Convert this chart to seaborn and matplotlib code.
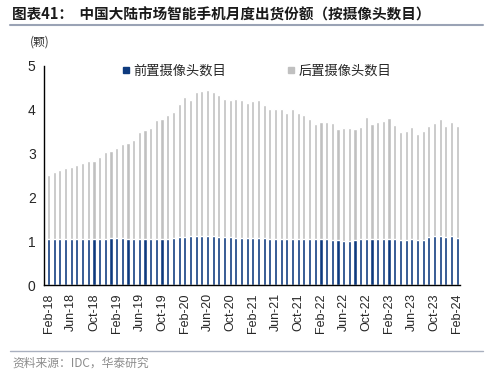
import matplotlib
matplotlib.use('Agg')
import matplotlib.pyplot as plt
import seaborn as sns
import pandas as pd
from matplotlib.lines import Line2D

# monthly labels Feb-18 .. Feb-24
months = pd.date_range('2018-02-01', '2024-02-01', freq='MS').strftime('%b-%y').tolist()

# front camera count per phone
front = [1.04, 1.04, 1.05, 1.04, 1.04,
         1.05, 1.05, 1.05, 1.05, 1.05, 1.06,
         1.07, 1.08, 1.07,
         1.05, 1.04, 1.05, 1.05, 1.05, 1.05, 1.05, 1.05,
         1.07, 1.09, 1.10,
         1.11, 1.12, 1.12, 1.11, 1.11, 1.10,
         1.09, 1.09, 1.08, 1.08, 1.08, 1.07, 1.07, 1.07, 1.06, 1.06,
         1.06, 1.05, 1.05, 1.05, 1.05, 1.04, 1.04, 1.04, 1.04,
         1.03, 1.02, 1.01, 1.01, 1.02, 1.04, 1.05, 1.05, 1.05, 1.05, 1.05, 1.04,
         1.03, 1.02, 1.04, 1.03, 1.03, 1.09, 1.11, 1.11, 1.10, 1.11, 1.08]

# rear camera count per phone
rear = [1.47, 1.54, 1.57, 1.62, 1.66, 1.70, 1.74, 1.78, 1.78, 1.87,
        1.97, 2.00, 2.04, 2.15, 2.19, 2.26, 2.45, 2.48, 2.53, 2.72,
        2.74, 2.82, 2.89, 3.04, 3.20, 3.11, 3.29, 3.32, 3.34, 3.30,
        3.23, 3.16, 3.13, 3.17, 3.15, 3.08, 3.12, 3.15, 3.03, 2.95,
        2.95, 2.95, 2.87, 2.96, 2.88, 2.82, 2.75, 2.64, 2.67, 2.69,
        2.66, 2.53, 2.57, 2.57, 2.54, 2.57, 2.78, 2.63, 2.66, 2.69,
        2.77, 2.61, 2.46, 2.50, 2.56, 2.42, 2.49, 2.53, 2.58, 2.67,
        2.53, 2.60, 2.56]

front_label = '前置摄像头数目'
rear_label = '后置摄像头数目'
blue = '#0E3A7E'
grey = '#C0C0C0'

df = pd.DataFrame({'month': months, 'front': front, 'rear': rear})
df['top'] = df['front'] + df['rear']

sns.set_style('white')
plt.rcParams['font.family'] = ['Noto Sans CJK SC', 'DejaVu Sans']

fig = plt.figure(figsize=(5.0, 3.77), dpi=100)
ax = fig.add_axes([0.088, 0.244, 0.832, 0.581])

sns.barplot(data=df, x='month', y='top', color=grey, width=0.55,
            saturation=1, ax=ax, order=months)
sns.barplot(data=df, x='month', y='front', color=blue, width=0.55,
            saturation=1, ax=ax, order=months)

ax.set_xlim(-0.8, 72.5)
ax.set_ylim(0, 5)
ax.set_yticks(range(0, 6))
ax.set_xticks(range(0, len(months), 4))
ax.set_xticklabels(months[::4], rotation=90, fontsize=9, family='Liberation Sans')
ax.set_yticklabels([str(v) for v in range(0, 6)], fontsize=10, family='Liberation Sans')
ax.set_xlabel('')
ax.set_ylabel('')
ax.tick_params(axis='both', direction='out', length=4, width=1, color='black', pad=2)
ax.tick_params(axis='x', pad=2)
sns.despine(ax=ax)
for s in ['left', 'bottom']:
    ax.spines[s].set_color('black')
    ax.spines[s].set_linewidth(1)

handles = [Line2D([], [], marker='s', linestyle='', color=blue, markersize=5),
           Line2D([], [], marker='s', linestyle='', color=grey, markersize=5)]
ax.legend(handles, [front_label, rear_label], ncol=2, frameon=False,
          loc='center', bbox_to_anchor=(0.51, 0.975), columnspacing=4.5,
          handletextpad=0.2, fontsize=9.5, handlelength=0.8)

fig.text(0.024, 0.962, '图表41：  中国大陆市场智能手机月度出货份额（按摄像头数目）',
         fontsize=10.5, fontweight='bold', va='center', ha='left', color='#1a1a1a')
fig.add_artist(Line2D([0.02, 0.966], [0.935, 0.935], color='#9AA3B5', lw=1.5))
fig.text(0.06, 0.888, '(颗)', fontsize=8.5, va='center', ha='left', color='#333333')
fig.add_artist(Line2D([0.02, 0.966], [0.069, 0.069], color='#A9B0BF', lw=1.0))
fig.text(0.024, 0.038, '资料来源：IDC，华泰研究', fontsize=8.5, va='center',
         ha='left', color='#8c8c8c')

fig.savefig('out.png', dpi=100)
